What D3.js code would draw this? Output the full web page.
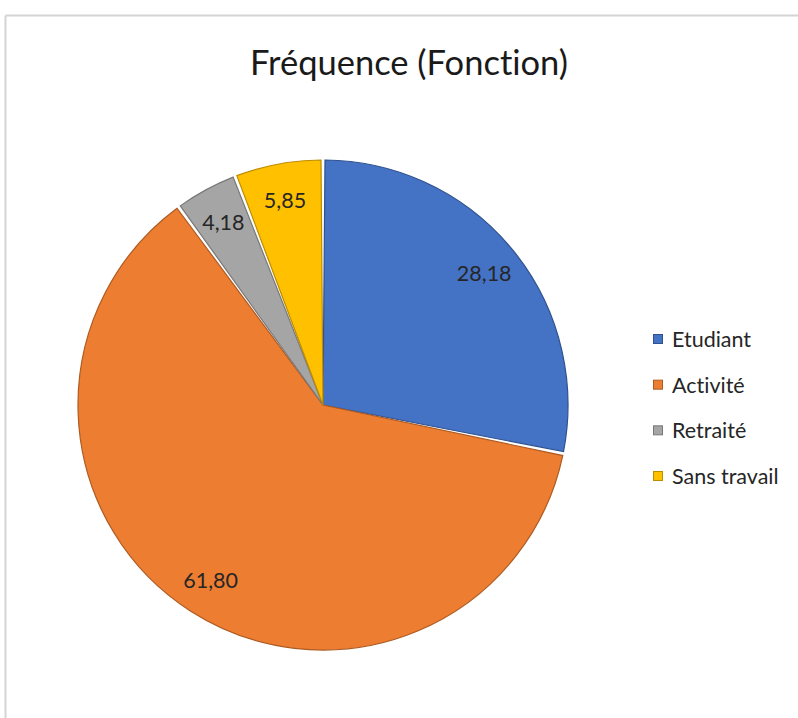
<!DOCTYPE html>
<html><head><meta charset="utf-8">
<script src="https://cdn.jsdelivr.net/npm/d3@7"></script>
<style>body{margin:0;background:#fff}svg{display:block}text{font-variant-ligatures:none;font-feature-settings:"liga" 0,"dlig" 0}</style>
</head><body>
<svg id="c" width="798" height="718"></svg>
<script>
const title = "Fréquence (Fonction)";
const categories = ["Etudiant", "Activité", "Retraité", "Sans travail"];
const values = [28.18, 61.80, 4.18, 5.85];
const labels = ["28,18", "61,80", "4,18", "5,85"];
const colors = ["#4472C4", "#ED7D31", "#A5A5A5", "#FFC000"];
const edges = ["#2F528F", "#AE5A21", "#787878", "#BC8C00"];

const svg = d3.select("#c");
const font = "Lato, 'Open Sans', sans-serif";

// frame
svg.append("line").attr("x1",5.5).attr("x2",798).attr("y1",15.5).attr("y2",15.5).attr("stroke","#d4d4d4").attr("stroke-width",2);
svg.append("line").attr("x1",5.5).attr("x2",5.5).attr("y1",15.5).attr("y2",718).attr("stroke","#d4d4d4").attr("stroke-width",2);

svg.append("text").attr("x",409).attr("y",75).attr("text-anchor","middle")
  .attr("font-family",font).attr("font-size",34.5).attr("fill","#1a1a1a").text(title);

const cx = 323, cy = 405, r = 245;
const data = categories.map((c,i)=>({c, v:values[i], i}));
const pie = d3.pie().sort(null).value(d=>d.v);
const arcs = pie(data);
const arc = d3.arc().innerRadius(0).outerRadius(r).padAngle(4/r).padRadius(r);
const g = svg.append("g").attr("transform",`translate(${cx},${cy})`);
g.selectAll("path").data(arcs).join("path")
  .attr("d",arc).attr("fill",d=>colors[d.data.i])
  .attr("stroke",d=>edges[d.data.i]).attr("stroke-width",1.2);

const lab = d3.arc().innerRadius(r*0.85).outerRadius(r*0.85);
g.selectAll("text.l").data(arcs).join("text").attr("class","l")
  .attr("transform",d=>`translate(${lab.centroid(d)})`)
  .attr("text-anchor","middle").attr("dominant-baseline","central")
  .attr("font-family",font).attr("font-size",21.5).attr("fill","#262626")
  .text(d=>labels[d.data.i]);

// legend
const ly = d3.scalePoint().domain(categories).range([339,476]);
const lg = svg.append("g");
const item = lg.selectAll("g").data(categories).join("g")
  .attr("transform",d=>`translate(653,${ly(d)})`);
item.append("rect").attr("x",0.5).attr("y",-4.5).attr("width",9).attr("height",9)
  .attr("fill",(d,i)=>colors[i]).attr("stroke",(d,i)=>edges[i]).attr("stroke-width",1);
item.append("text").attr("x",19).attr("y",0).attr("dominant-baseline","central")
  .attr("font-family",font).attr("font-size",21.5).attr("fill","#262626").text(d=>d);
</script>
</body></html>
